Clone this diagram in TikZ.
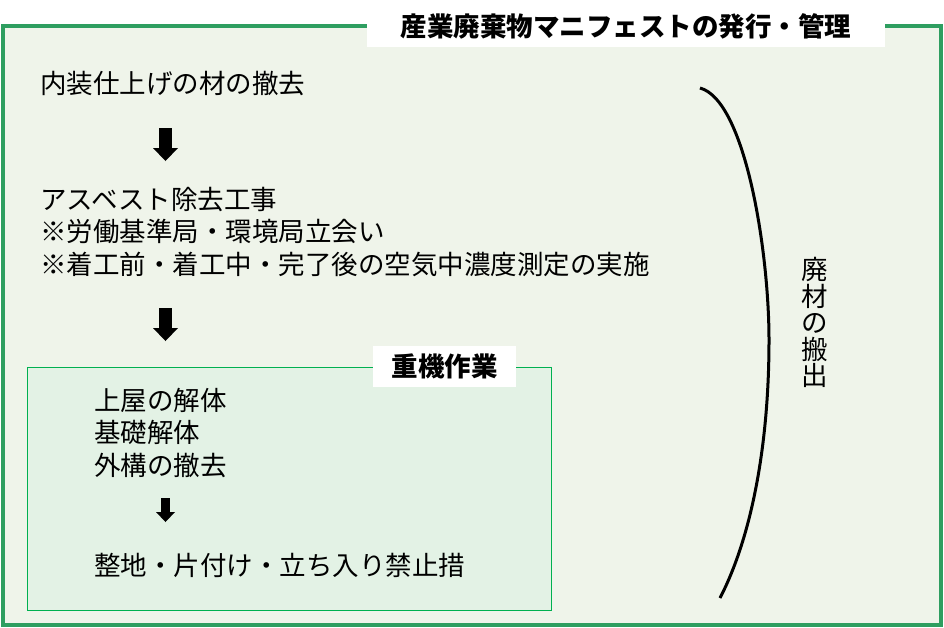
\documentclass[tikz,border=0pt]{standalone}
\usepackage{fontspec}
\newfontfamily\jp{Noto Sans CJK JP}
\usetikzlibrary{arrows.meta}
\definecolor{outergreen}{RGB}{46,158,96}
\definecolor{outerfill}{RGB}{239,244,234}
\definecolor{innergreen}{RGB}{0,176,80}
\definecolor{innerfill}{RGB}{227,242,229}
\tikzset{
	jtext/.style={anchor=west, inner sep=0pt, align=left, font=\jp\fontsize{26.5}{32.5}\selectfont},
	titlebox/.style={fill=white, inner sep=0pt, font=\jp\bfseries\fontsize{26.5}{32.5}\selectfont},
	bigarrow/.style={line width=13pt, -{Triangle[width=25pt,length=13pt,line width=0pt]}},
	smallarrow/.style={line width=9pt, -{Triangle[width=19pt,length=10pt,line width=0pt]}}
}
\begin{document}
\begin{tikzpicture}[x=1pt,y=-1pt]
	\useasboundingbox (0,0) rectangle (944,627);
	% outer frame
	\draw[outergreen, line width=4pt, fill=outerfill] (3,26) rectangle (941,625);
	\node[titlebox, minimum width=518pt, minimum height=41pt] (manifest) at (626,26) {産業廃棄物マニフェストの発行・管理};
	
	\node[jtext] (naisou) at (40,84) {内装仕上げの材の撤去};
	\node[jtext] (asbestos) at (40,232) {アスベスト除去工事\\※労働基準局・環境局立会い\\※着工前・着工中・完了後の空気中濃度測定の実施};
	
	% heavy machinery box
	\draw[innergreen, line width=1pt, fill=innerfill] (27,367) rectangle (551,610);
	\node[titlebox, minimum width=143pt, minimum height=41pt] (juuki) at (444.5,366.5) {重機作業};
	\node[jtext] (kaitai) at (94,433) {上屋の解体\\基礎解体\\外構の撤去};
	\node[jtext] (seichi) at (94,565) {整地・片付け・立ち入り禁止措};
	
	% arrows
	\coordinate (a1) at (165.5,128); \coordinate (b1) at (165.5,161);
	\coordinate (a2) at (165.5,308); \coordinate (b2) at (165.5,341);
	\coordinate (a3) at (165.5,498); \coordinate (b3) at (165.5,522);
	\draw[bigarrow] (a1) -- (b1);
	\draw[bigarrow] (a2) -- (b2);
	\draw[smallarrow] (a3) -- (b3);
	
	% bracket
	\coordinate (brtop) at (700,88);
	\coordinate (brmid) at (769,340);
	\coordinate (brbot) at (720,598);
	\draw[line width=3pt] (brtop) .. controls (745,100) and (769,250) .. (brmid) .. controls (769,450) and (750,540) .. (brbot);
	\node[inner sep=0pt, align=center, font=\jp\fontsize{26.5}{26.5}\selectfont] (haizai) at (815,322.5) {廃\\材\\の\\搬\\出};
\end{tikzpicture}
\end{document}
